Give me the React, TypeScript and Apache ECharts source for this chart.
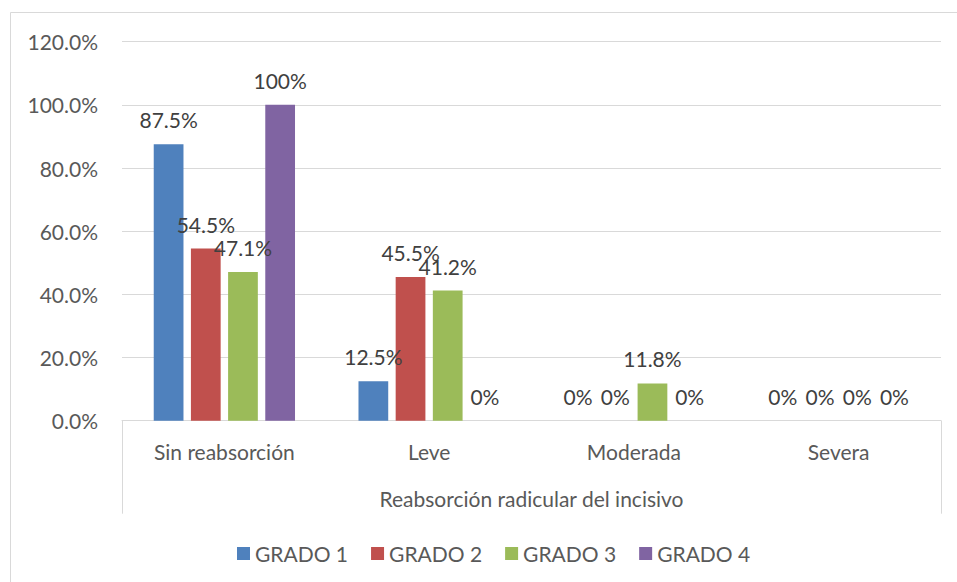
import React, { useEffect, useRef } from "react";
import * as echarts from "echarts";

const categories = ["Sin reabsorción", "Leve", "Moderada", "Severa"];
const seriesNames = ["GRADO 1", "GRADO 2", "GRADO 3", "GRADO 4"];
const grado1 = [87.5, 12.5, 0, 0];
const grado2 = [54.5, 45.5, 0, 0];
const grado3 = [47.1, 41.2, 11.8, 0];
const grado4 = [100, 0, 0, 0];
const colors = ["#4F81BD", "#C0504D", "#9BBB59", "#8064A2"];
const axisTitle = "Reabsorción radicular del incisivo";

const FONT = "Lato";
const TEXT = "#595959";
const FS = 21;

export default function App() {
  const ref = useRef<HTMLDivElement>(null);
  useEffect(() => {
    if (!ref.current) return;
    const chart = echarts.init(ref.current, null, { renderer: "svg" });
    const values = [grado1, grado2, grado3, grado4];
    chart.setOption({
      animation: false,
      backgroundColor: "#ffffff",
      textStyle: { fontFamily: FONT, color: TEXT },
      grid: { left: 122, right: 16, top: 41.7, bottom: 161.3, containLabel: false },
      graphic: [
        {
          type: "rect",
          shape: { x: 10.5, y: 12.5, width: 960, height: 580 },
          style: { fill: "none", stroke: "#D9D9D9", lineWidth: 1 },
          silent: true,
        },
      ],
      legend: {
        left: 232,
        top: 538,
        itemWidth: 13,
        itemHeight: 13,
        itemGap: 23,
        icon: "rect",
        textStyle: { fontFamily: FONT, fontSize: FS, color: TEXT },
        data: seriesNames,
      },
      xAxis: [
        {
          type: "category",
          data: categories,
          position: "bottom",
          axisLine: { show: true, lineStyle: { color: "#D9D9D9", width: 1 } },
          axisTick: { show: false },
          axisLabel: { margin: 20, fontFamily: FONT, fontSize: FS, color: TEXT },
        },
        {
          type: "category",
          data: [axisTitle],
          position: "bottom",
          axisLine: { show: false },
          axisTick: { show: true, length: 93, lineStyle: { color: "#D9D9D9", width: 1 } },
          axisLabel: { margin: 67, fontFamily: FONT, fontSize: FS, color: TEXT },
        },
      ],
      yAxis: {
        type: "value",
        min: 0,
        max: 120,
        interval: 20,
        axisLine: { show: false },
        axisTick: { show: false },
        splitLine: { lineStyle: { color: "#D9D9D9", width: 1 } },
        axisLabel: {
          margin: 24,
          fontFamily: FONT,
          fontSize: FS,
          color: TEXT,
          formatter: (v: number) => v.toFixed(1) + "%",
        },
      },
      series: seriesNames.map((name, i) => ({
        name,
        type: "bar",
        data: values[i],
        itemStyle: { color: colors[i] },
        barCategoryGap: "31%",
        barGap: "25%",
        label: {
          show: true,
          position: "top",
          distance: 14,
          fontFamily: FONT,
          fontSize: FS,
          color: "#404040",
          formatter: (p: any) => p.value + "%",
        },
      })),
    });
    return () => chart.dispose();
  }, []);
  return (
    <div
      ref={ref}
      style={{ position: "absolute", left: 0, top: 0, width: 957, height: 582 }}
    />
  );
}
